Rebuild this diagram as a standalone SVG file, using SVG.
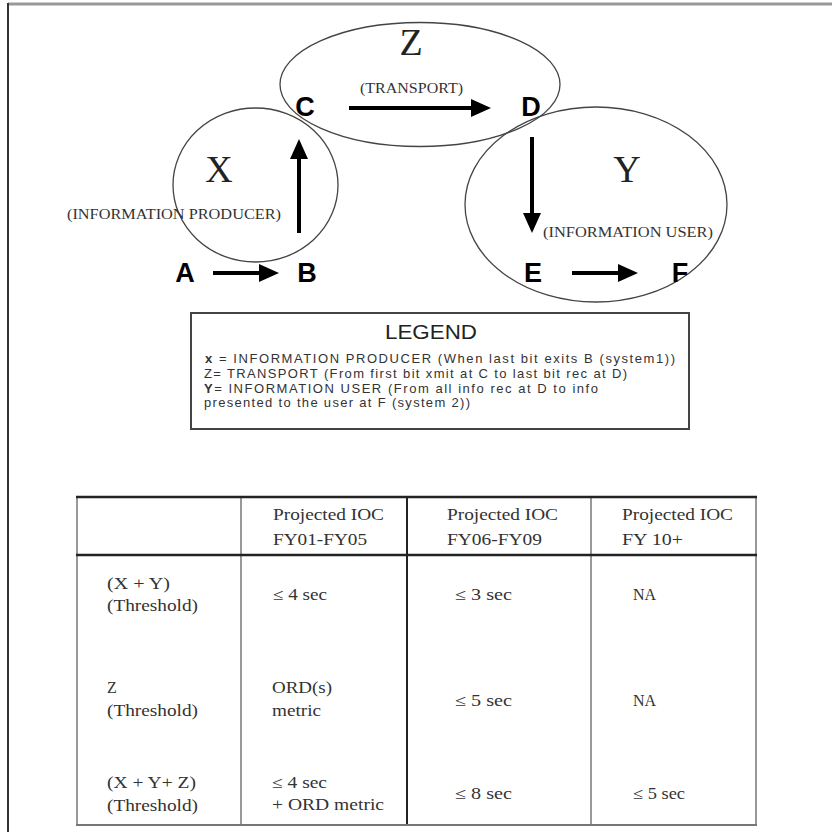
<svg xmlns="http://www.w3.org/2000/svg" width="832" height="832" viewBox="0 0 832 832">
<defs>
<marker id="head" markerUnits="userSpaceOnUse" markerWidth="20" markerHeight="18" refX="2" refY="9" orient="auto">
<path d="M0,0 L20,9 L0,18 Z" fill="#000"/>
</marker>
<style>
.ell{fill:none;stroke:#444;stroke-width:1.3}
.big{font-family:"Liberation Serif","Times New Roman",serif;font-size:38px;fill:#222;text-anchor:middle}
.sub{font-family:"Liberation Serif","Times New Roman",serif;font-size:14px;fill:#333}
.pt{font-family:"Liberation Sans",Arial,sans-serif;font-size:27px;font-weight:bold;fill:#000;text-anchor:middle}
.arr{stroke:#000;stroke-width:4;fill:none;marker-end:url(#head)}
.lg{font-family:"Liberation Sans",Arial,sans-serif;font-size:13px;fill:#333}
.tb{font-family:"Liberation Serif","Times New Roman",serif;font-size:16px;fill:#333}
.thick{stroke:#222;stroke-width:2.5}
.thin{stroke:#777;stroke-width:1.5}
</style>
</defs>
<rect width="832" height="832" fill="#fff"/>
<!-- outer frame -->
<line x1="8" y1="4" x2="832" y2="4" stroke="#999" stroke-width="3"/>
<line x1="8" y1="3" x2="8" y2="832" stroke="#333" stroke-width="2"/>

<g id="regionZ">
<ellipse class="ell" cx="420" cy="84.5" rx="140" ry="62"/>
<text class="big" x="411" y="55">Z</text>
<text class="sub" x="360" y="93" textLength="103" lengthAdjust="spacingAndGlyphs">(TRANSPORT)</text>
</g>
<g id="regionX">
<ellipse class="ell" cx="255.5" cy="185" rx="82.5" ry="77"/>
<text class="big" x="219" y="182">X</text>
<text class="sub" x="67" y="219" textLength="214" lengthAdjust="spacingAndGlyphs">(INFORMATION PRODUCER)</text>
</g>
<g id="regionY">
<ellipse class="ell" cx="596" cy="204.5" rx="131" ry="97.5"/>
<text class="big" x="627" y="182">Y</text>
<text class="sub" x="543" y="237" textLength="170" lengthAdjust="spacingAndGlyphs">(INFORMATION USER)</text>
</g>

<g id="nodeA"><text class="pt" x="185" y="282">A</text></g>
<g id="nodeB"><text class="pt" x="307" y="282">B</text></g>
<g id="nodeC"><text class="pt" x="305" y="116">C</text></g>
<g id="nodeD"><text class="pt" x="531" y="116">D</text></g>
<g id="nodeE"><text class="pt" x="533" y="282">E</text></g>
<g id="nodeF"><text class="pt" x="680" y="282">F</text></g>

<g id="connectors">
<line class="arr" x1="213" y1="273" x2="261" y2="273"/>
<line class="arr" x1="299" y1="233" x2="299" y2="157"/>
<line class="arr" x1="349" y1="108" x2="473" y2="108"/>
<line class="arr" x1="532" y1="137" x2="532" y2="215"/>
<line class="arr" x1="572" y1="273" x2="620" y2="273"/>
</g>

<g id="legend">
<rect x="191" y="313" width="498" height="116" fill="#fff" stroke="#444" stroke-width="2"/>
<text x="385" y="339" font-family="'Liberation Sans',Arial,sans-serif" font-size="20" fill="#222" textLength="92" lengthAdjust="spacingAndGlyphs">LEGEND</text>
<text class="lg" x="205" y="363" textLength="470" lengthAdjust="spacing"><tspan font-weight="bold">x</tspan> = INFORMATION PRODUCER (When last bit exits B (system1))</text>
<text class="lg" x="204" y="378" textLength="423" lengthAdjust="spacing">Z= TRANSPORT (From first bit xmit at C to last bit rec at D)</text>
<text class="lg" x="204" y="393" textLength="394" lengthAdjust="spacing"><tspan font-weight="bold">Y</tspan>= INFORMATION USER (From all info rec at D to info</text>
<text class="lg" x="204" y="407" textLength="266" lengthAdjust="spacing">presented to the user at F (system 2))</text>
</g>

<g id="table">
<line class="thin" x1="77" y1="497" x2="77" y2="825"/>
<line class="thin" x1="241" y1="497" x2="241" y2="825"/>
<line x1="407" y1="497" x2="407" y2="825" stroke="#222" stroke-width="2"/>
<line class="thin" x1="591" y1="497" x2="591" y2="825"/>
<line class="thin" x1="756" y1="497" x2="756" y2="825"/>
<line class="thick" x1="76" y1="497" x2="757" y2="497"/>
<line class="thick" x1="76" y1="555" x2="757" y2="555"/>
<line x1="76" y1="825" x2="757" y2="825" stroke="#777" stroke-width="2"/>

<text class="tb" x="273" y="520" textLength="111" lengthAdjust="spacingAndGlyphs">Projected IOC</text>
<text class="tb" x="273" y="545" textLength="94" lengthAdjust="spacingAndGlyphs">FY01-FY05</text>
<text class="tb" x="447" y="520" textLength="111" lengthAdjust="spacingAndGlyphs">Projected IOC</text>
<text class="tb" x="447" y="545" textLength="95" lengthAdjust="spacingAndGlyphs">FY06-FY09</text>
<text class="tb" x="622" y="520" textLength="111" lengthAdjust="spacingAndGlyphs">Projected IOC</text>
<text class="tb" x="622" y="545" textLength="61" lengthAdjust="spacingAndGlyphs">FY 10+</text>

<text class="tb" x="107" y="589" textLength="63" lengthAdjust="spacingAndGlyphs">(X + Y)</text>
<text class="tb" x="107" y="611" textLength="91" lengthAdjust="spacingAndGlyphs">(Threshold)</text>
<text class="tb" x="273" y="600" textLength="54" lengthAdjust="spacingAndGlyphs">≤ 4 sec</text>
<text class="tb" x="455" y="600" textLength="57" lengthAdjust="spacingAndGlyphs">≤ 3 sec</text>
<text class="tb" x="633" y="600">NA</text>

<text class="tb" x="107" y="693">Z</text>
<text class="tb" x="107" y="716" textLength="91" lengthAdjust="spacingAndGlyphs">(Threshold)</text>
<text class="tb" x="272" y="693" textLength="60" lengthAdjust="spacingAndGlyphs">ORD(s)</text>
<text class="tb" x="272" y="716" textLength="49" lengthAdjust="spacingAndGlyphs">metric</text>
<text class="tb" x="455" y="706" textLength="57" lengthAdjust="spacingAndGlyphs">≤ 5 sec</text>
<text class="tb" x="633" y="706">NA</text>

<text class="tb" x="107" y="788" textLength="89" lengthAdjust="spacingAndGlyphs">(X + Y+ Z)</text>
<text class="tb" x="107" y="811" textLength="91" lengthAdjust="spacingAndGlyphs">(Threshold)</text>
<text class="tb" x="272" y="788" textLength="55" lengthAdjust="spacingAndGlyphs">≤ 4 sec</text>
<text class="tb" x="272" y="810" textLength="112" lengthAdjust="spacingAndGlyphs">+ ORD metric</text>
<text class="tb" x="455" y="799" textLength="57" lengthAdjust="spacingAndGlyphs">≤ 8 sec</text>
<text class="tb" x="633" y="799" textLength="52" lengthAdjust="spacingAndGlyphs">≤ 5 sec</text>
</g>
</svg>
